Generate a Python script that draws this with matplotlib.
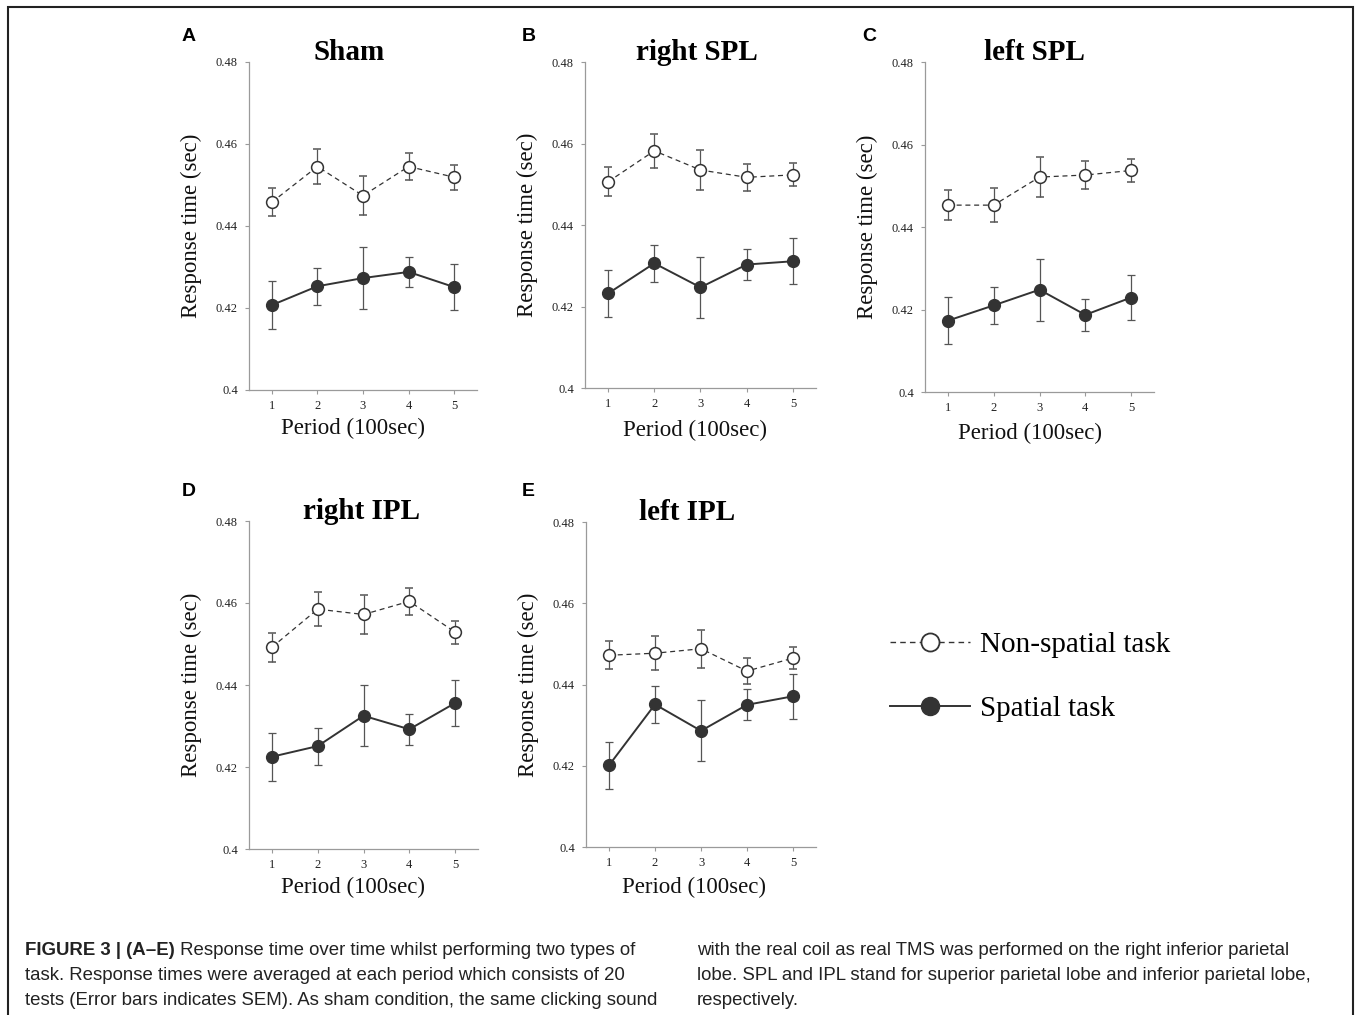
#!/usr/bin/env python
"""Plot response time over five periods for sham and TMS conditions."""

import matplotlib
matplotlib.use('Agg')
import matplotlib.pyplot as plt
from matplotlib.lines import Line2D
from matplotlib.patches import Rectangle


# data (mean and SEM, seconds)
PERIODS = [1, 2, 3, 4, 5]
PANEL_LETTERS = ['A', 'B', 'C', 'D', 'E']
PANEL_TITLES = ['Sham', 'right SPL', 'left SPL', 'right IPL', 'left IPL']
YTICKS = [0.40, 0.42, 0.44, 0.46, 0.48]
YTICK_LABELS = ['0.4', '0.42', '0.44', '0.46', '0.48']

NONSPATIAL_MEAN = [
    [0.4458, 0.4545, 0.4474, 0.4545, 0.4519],
    [0.4506, 0.4582, 0.4535, 0.4517, 0.4523],
    [0.4453, 0.4453, 0.4521, 0.4526, 0.4537],
    [0.4492, 0.4585, 0.4572, 0.4604, 0.4529],
    [0.4472, 0.4477, 0.4488, 0.4433, 0.4465]]
NONSPATIAL_SEM = [
    [0.0034, 0.0043, 0.0048, 0.0034, 0.0030],
    [0.0036, 0.0042, 0.0048, 0.0033, 0.0028],
    [0.0036, 0.0042, 0.0048, 0.0033, 0.0029],
    [0.0035, 0.0042, 0.0048, 0.0033, 0.0028],
    [0.0035, 0.0042, 0.0047, 0.0032, 0.0028]]
SPATIAL_MEAN = [
    [0.4207, 0.4253, 0.4273, 0.4288, 0.4251],
    [0.4232, 0.4306, 0.4247, 0.4303, 0.4311],
    [0.4173, 0.4210, 0.4248, 0.4187, 0.4229],
    [0.4225, 0.4251, 0.4325, 0.4292, 0.4356],
    [0.4201, 0.4351, 0.4286, 0.4350, 0.4371]]
SPATIAL_SEM = [
    [0.0058, 0.0045, 0.0075, 0.0037, 0.0057],
    [0.0058, 0.0045, 0.0075, 0.0038, 0.0056],
    [0.0057, 0.0045, 0.0075, 0.0038, 0.0054],
    [0.0058, 0.0045, 0.0075, 0.0038, 0.0055],
    [0.0057, 0.0045, 0.0075, 0.0038, 0.0055]]

LEGEND_LABELS = ['Non-spatial task', 'Spatial task']

CAPTION_BOLD = 'FIGURE 3 | (A\u2013E)'
CAPTION_LEFT = [
    ' Response time over time whilst performing two types of',
    'task. Response times were averaged at each period which consists of 20',
    'tests (Error bars indicates SEM). As sham condition, the same clicking sound']
CAPTION_RIGHT = [
    'with the real coil as real TMS was performed on the right inferior parietal',
    'lobe. SPL and IPL stand for superior parietal lobe and inferior parietal lobe,',
    'respectively.']

# layout in pixels of a 1355x1015 canvas: left, top, right, bottom
W, H = 1355, 1015
AXES_PX = [(249, 62, 477, 390), (585, 62, 816, 388), (925, 62, 1154, 392),
           (249, 521, 478, 849), (586, 522, 816, 847)]
LETTER_PX = [(182, 28), (522, 28), (862, 28), (182, 483), (522, 483)]
TITLE_X = [0.44, 0.485, 0.476, 0.49, 0.44]
XLABEL_POS = [(0.456, -0.085), (0.476, -0.098), (0.459, -0.095),
              (0.454, -0.085), (0.47, -0.092)]

DARK = '#333333'
AXCOL = '#9a9a9a'


def px_rect(left, top, right, bottom):
    """Convert pixel box to figure fraction rectangle."""
    return [left / W, 1 - bottom / H, (right - left) / W, (bottom - top) / H]


def draw_panel(ax, i):
    """Draw one response time panel."""
    ax.errorbar(PERIODS, NONSPATIAL_MEAN[i], yerr=NONSPATIAL_SEM[i],
                color=DARK, lw=0.9, ls=(0, (4, 3)), marker='o', ms=8.5,
                mfc='white', mec=DARK, mew=1.1, ecolor='#555555',
                elinewidth=0.9, capsize=3, capthick=0.9, zorder=3)
    ax.errorbar(PERIODS, SPATIAL_MEAN[i], yerr=SPATIAL_SEM[i],
                color=DARK, lw=1.4, marker='o', ms=8.5, mfc=DARK, mec=DARK,
                ecolor='#555555', elinewidth=0.9, capsize=3, capthick=0.9,
                zorder=3)

    ax.set_xlim(0.5, 5.5)
    ax.set_ylim(0.4, 0.48)
    ax.set_xticks(PERIODS)
    ax.set_yticks(YTICKS)
    ax.set_yticklabels(YTICK_LABELS)
    for side in ('top', 'right'):
        ax.spines[side].set_visible(False)
    for side in ('left', 'bottom'):
        ax.spines[side].set_color(AXCOL)
        ax.spines[side].set_linewidth(0.9)
    ax.tick_params(direction='out', length=3, width=0.8, color=AXCOL,
                   labelsize=9, labelcolor='#222222')
    ax.tick_params(axis='y', pad=5)
    ax.tick_params(axis='x', pad=4)

    ax.set_ylabel('Response time (sec)', fontsize=16.5, color='#111111')
    ax.yaxis.set_label_coords(-0.205, 0.5)
    ax.set_xlabel('Period (100sec)', fontsize=16.5, color='#111111',
                  va='top')
    ax.xaxis.set_label_coords(*XLABEL_POS[i])
    ax.text(TITLE_X[i], 1.005, PANEL_TITLES[i], transform=ax.transAxes,
            ha='center', va='baseline', fontsize=21, fontweight='bold')


def main():
    """Main program called during execution."""
    plt.rcParams['font.family'] = ['Liberation Serif', 'DejaVu Serif']
    fig = plt.figure(figsize=(W / 100, H / 100), dpi=100)

    # panels
    for i, box in enumerate(AXES_PX):
        ax = fig.add_axes(px_rect(*box))
        draw_panel(ax, i)
        lx, ly = LETTER_PX[i]
        fig.text(lx / W, 1 - ly / H, PANEL_LETTERS[i], ha='left', va='top',
                 fontsize=14, fontweight='bold', family='Liberation Sans')

    # legend
    handles = [
        Line2D([], [], color=DARK, lw=1.0, ls=(0, (4, 3)), marker='o',
               ms=13, mfc='white', mec=DARK, mew=1.3),
        Line2D([], [], color=DARK, lw=1.4, marker='o', ms=13, mfc=DARK,
               mec=DARK)]
    fig.legend(handles, LEGEND_LABELS, loc='center left',
               bbox_to_anchor=(890 / W, 1 - 677 / H), frameon=False,
               fontsize=21, handlelength=2.74, handletextpad=0.34,
               labelspacing=1.3, borderpad=0, borderaxespad=0)

    # frame around the figure
    fig.add_artist(Rectangle((8 / W, -0.02), (1353 - 8) / W, 1 - 7 / H + 0.02,
                             transform=fig.transFigure, fill=False,
                             ec='#222222', lw=1.5, clip_on=False))

    # caption
    cap = dict(family='Liberation Sans', fontsize=13.4, color='#222222',
               va='baseline', ha='left')
    bold = fig.text(25 / W, 1 - 955 / H, CAPTION_BOLD, fontweight='bold',
                    **cap)
    fig.canvas.draw()
    bb = bold.get_window_extent(renderer=fig.canvas.get_renderer())
    for k, line in enumerate(CAPTION_LEFT):
        x0 = bb.x1 / fig.bbox.width if k == 0 else 25 / W
        fig.text(x0, 1 - (955 + 25 * k) / H, line, **cap)
    for k, line in enumerate(CAPTION_RIGHT):
        fig.text(697 / W, 1 - (955 + 25 * k) / H, line, **cap)

    fig.savefig('out.png', dpi=100)


if __name__ == '__main__':
    main()
